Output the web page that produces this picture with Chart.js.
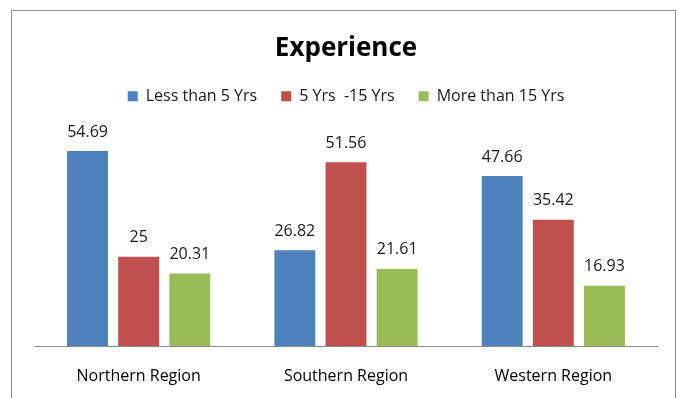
<!DOCTYPE html>
<html>
<head>
<meta charset="utf-8">
<script src="https://cdn.jsdelivr.net/npm/chart.js@4/dist/chart.umd.min.js"></script>
<style>
  body { margin: 0; background: #fff; }
  #wrap { position: relative; width: 679px; height: 398px; }
  #frame { position: absolute; left: 11px; top: 10px; width: 663px; height: 400px; border: 1px solid #8e8e8e; pointer-events: none; }
</style>
</head>
<body>
<div id="wrap">
  <canvas id="expChart" width="679" height="398"></canvas>
  <div id="frame"></div>
</div>
<script>
var regions = ["Northern Region", "Southern Region", "Western Region"];
var lessThan5 = [54.69, 26.82, 47.66];
var from5to15 = [25, 51.56, 35.42];
var moreThan15 = [20.31, 21.61, 16.93];

var fontFamily = "'Open Sans'";

// writes each bar's value just above it
var valueLabels = {
    id: 'valueLabels',
    afterDatasetsDraw: function(chart) {
        var c = chart.ctx;
        c.save();
        c.font = '16px ' + fontFamily;
        c.fillStyle = '#1a1a1a';
        c.textAlign = 'center';
        c.textBaseline = 'middle';
        chart.data.datasets.forEach(function(ds, i) {
            chart.getDatasetMeta(i).data.forEach(function(bar, j) {
                c.fillText(ds.data[j], bar.x, bar.y - 19);
            });
        });
        c.restore();
    }
};

var ctx = document.getElementById('expChart');
var expChart = new Chart(ctx, {
    type: 'bar',
    plugins: [valueLabels],
    data: {
        labels: regions,
        datasets: [{
            label: "Less than 5 Yrs",
            data: lessThan5,
            backgroundColor: "#4f81bd"
        }, {
            label: "5 Yrs  -15 Yrs",
            data: from5to15,
            backgroundColor: "#c0504d"
        }, {
            label: "More than 15 Yrs",
            data: moreThan15,
            backgroundColor: "#9bbb59"
        }]
    },
    options: {
        responsive: false,
        animation: false,
        layout: {
            padding: { left: 35, right: 22, top: 21, bottom: 0 }
        },
        datasets: {
            bar: { barPercentage: 0.8, categoryPercentage: 0.74 }
        },
        plugins: {
            title: {
                display: true,
                text: "Experience",
                color: '#000',
                font: { family: fontFamily, size: 26, weight: 'bold' },
                padding: { top: 12, bottom: 0 }
            },
            legend: {
                labels: {
                    color: '#1a1a1a',
                    font: { family: fontFamily, size: 16 },
                    boxWidth: 10,
                    boxHeight: 10,
                    padding: 24
                }
            },
            tooltip: { enabled: false }
        },
        scales: {
            x: {
                grid: { display: false, drawTicks: false },
                border: { color: '#8a8a8a', width: 1 },
                ticks: { color: '#000', padding: 21, font: { family: fontFamily, size: 16 } },
                afterFit: function(scale) { scale.height = 52; }
            },
            y: {
                display: false,
                min: 0,
                max: 65
            }
        }
    }
});
</script>
</body>
</html>
